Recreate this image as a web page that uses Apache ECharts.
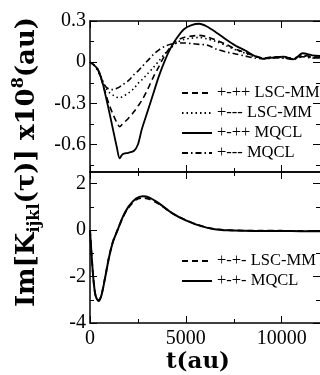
<!DOCTYPE html>
<html>
<head>
<meta charset="utf-8">
<script src="https://cdn.jsdelivr.net/npm/echarts@6/dist/echarts.min.js"></script>
<style>html,body{margin:0;padding:0;background:#fff}#c{width:320px;height:375px}</style>
</head>
<body>
<div id="c"></div>
<script>
// ---- data ----
const tTop = [0,200,400,600,800,1000,1200,1400,1550,1700,2000,2300,2500,2700,3000,3300,3600,3900,4200,4500,4900,5300,5700,6100,6600,7100,7600,8100,8600,9100,9600,10100,10600,11100,11600,12000];
const lscPMPP  = [0,-0.02,-0.05,-0.13,-0.22,-0.31,-0.38,-0.44,-0.47,-0.45,-0.41,-0.36,-0.32,-0.28,-0.20,-0.11,-0.03,0.05,0.11,0.155,0.18,0.19,0.195,0.185,0.16,0.13,0.095,0.07,0.045,0.03,0.04,0.035,0.03,0.05,0.04,0.035];
const lscPMMM  = [0,-0.02,-0.06,-0.12,-0.18,-0.22,-0.24,-0.255,-0.26,-0.25,-0.225,-0.19,-0.155,-0.13,-0.085,-0.04,0.01,0.06,0.10,0.14,0.165,0.175,0.18,0.17,0.15,0.12,0.09,0.065,0.04,0.03,0.035,0.03,0.025,0.045,0.035,0.03];
const mqclPMPP = [0,-0.02,-0.05,-0.12,-0.235,-0.36,-0.49,-0.62,-0.70,-0.67,-0.66,-0.645,-0.60,-0.49,-0.36,-0.23,-0.10,0.01,0.10,0.17,0.24,0.27,0.28,0.26,0.215,0.165,0.12,0.085,0.045,0.025,0.035,0.04,0.02,0.065,0.05,0.045];
const mqclPMMM = [0,-0.02,-0.06,-0.12,-0.175,-0.195,-0.2,-0.19,-0.18,-0.165,-0.135,-0.09,-0.065,-0.035,0.01,0.055,0.09,0.115,0.13,0.14,0.14,0.135,0.13,0.125,0.095,0.075,0.06,0.045,0.03,0.025,0.03,0.03,0.02,0.04,0.03,0.03];

const tBot = [0,100,200,300,450,600,800,1000,1200,1450,1700,2000,2400,2750,3100,3600,4300,5000,5800,6500,7200,8000,9000,10000,11000,12000];
const lscPMPM  = [0,-1.3,-2.3,-2.85,-3.03,-2.78,-1.98,-1.13,-0.48,0.03,0.52,0.96,1.3,1.38,1.33,1.12,0.72,0.43,0.18,0.05,0.0,-0.02,-0.03,-0.03,-0.04,-0.04];
const mqclPMPM = [0,-1.3,-2.3,-2.85,-3.05,-2.8,-2.0,-1.15,-0.5,0.02,0.55,1.0,1.36,1.46,1.40,1.15,0.72,0.42,0.17,0.04,-0.01,-0.03,-0.04,-0.04,-0.05,-0.05];

const xMajor = [0,5000,10000];
const xMinor = [2500,7500];
const yTopMajor = [-0.6,-0.3,0,0.3];
const yTopMinor = [-0.75,-0.45,-0.15,0.15];
const yBotMajor = [-4,-2,0,2];
const yBotMinor = [-3,-1,1];

const namesTop = ['+-++ LSC-MM','+--- LSC-MM','+-++ MQCL','+--- MQCL'];
const namesBot = ['+-+- LSC-MM','+-+- MQCL'];

// ---- build ----
const serif = 'Liberation Serif';
const black = '#000';
const plain = v => String(v);
function xAx(grid, pos, ticks, len, line, labels, extra) {
  return Object.assign({
    type: 'value', gridIndex: grid, position: pos, min: 0, max: 12000,
    axisLine: {show: line, onZero: false, lineStyle: {color: black, width: 1.5}},
    axisTick: {show: true, inside: true, length: len, customValues: ticks, lineStyle: {color: black, width: 1}},
    axisLabel: labels ? {show: true, customValues: labels, formatter: plain, color: black, fontFamily: serif, fontSize: 20, margin: 6} : {show: false},
    splitLine: {show: false}
  }, extra || {});
}
function yAx(grid, pos, min, max, ticks, len, line, labels) {
  return {
    type: 'value', gridIndex: grid, position: pos, min: min, max: max,
    axisLine: {show: line, onZero: false, lineStyle: {color: black, width: 1.5}},
    axisTick: {show: true, inside: true, length: len, customValues: ticks, lineStyle: {color: black, width: 1}},
    axisLabel: labels ? {show: true, customValues: labels, formatter: plain, color: black, fontFamily: serif, fontSize: 20, margin: 4} : {show: false},
    splitLine: {show: false}
  };
}
const xAxis = [
  xAx(0,'bottom',xMajor,7,true,null),
  xAx(0,'bottom',xMinor,4,false,null),
  xAx(0,'top',xMajor,7,true,null),
  xAx(0,'top',xMinor,4,false,null),
  xAx(1,'bottom',xMajor,7,true,xMajor,{name:'t(au)',nameLocation:'middle',nameGap:28,
      nameTextStyle:{fontFamily:'DejaVu Serif',fontWeight:'bold',fontSize:23,color:black,padding:[0,14,0,0]}}),
  xAx(1,'bottom',xMinor,4,false,null),
  xAx(1,'top',xMajor,7,true,null),
  xAx(1,'top',xMinor,4,false,null)
];
const yAxis = [
  yAx(0,'left',-0.8,0.3,yTopMajor,7,true,yTopMajor),
  yAx(0,'left',-0.8,0.3,yTopMinor,4,false,null),
  yAx(0,'right',-0.8,0.3,yTopMajor,7,false,null),
  yAx(0,'right',-0.8,0.3,yTopMinor,4,false,null),
  yAx(1,'left',-4,2.5,yBotMajor,7,true,yBotMajor),
  yAx(1,'left',-4,2.5,yBotMinor,4,false,null),
  yAx(1,'right',-4,2.5,yBotMajor,7,false,null),
  yAx(1,'right',-4,2.5,yBotMinor,4,false,null)
];
function pairs(ts, vs) { return ts.map((t, i) => [t, vs[i]]); }
function ser(name, xi, yi, ts, vs, type, width) {
  return {
    name: name, type: 'line', xAxisIndex: xi, yAxisIndex: yi,
    data: pairs(ts, vs), symbol: 'none', smooth: 0.3, silent: true,
    lineStyle: {color: black, width: width, type: type},
    itemStyle: {color: black}
  };
}
const series = [
  ser(namesTop[0],0,0,tTop,lscPMPP,[6,4],1.6),
  ser(namesTop[1],0,0,tTop,lscPMMM,[1.5,3],1.6),
  ser(namesTop[2],0,0,tTop,mqclPMPP,'solid',1.8),
  ser(namesTop[3],0,0,tTop,mqclPMMM,[6,3,1.5,3],1.6),
  ser(namesBot[0],4,4,tBot,lscPMPM,[6,4],1.8),
  ser(namesBot[1],4,4,tBot,mqclPMPM,'solid',2)
];
const legendBase = {
  orient: 'vertical', left: 176, itemWidth: 30, itemHeight: 14, itemGap: 2,
  selectedMode: false,
  itemStyle: {opacity: 0, borderWidth: 0},
  textStyle: {fontFamily: serif, fontSize: 16.5, color: black, lineHeight: 18}
};
const option = {
  animation: false,
  backgroundColor: '#fff',
  grid: [
    {left: 90, width: 231, top: 21, height: 151},
    {left: 90, width: 231, top: 172, height: 151}
  ],
  xAxis: xAxis,
  yAxis: yAxis,
  legend: [
    Object.assign({}, legendBase, {top: 79, data: namesTop}),
    Object.assign({}, legendBase, {top: 247, data: namesBot})
  ],
  series: series,
  graphic: [{
    type: 'text', x: 27, y: 162, rotation: Math.PI / 2,
    style: {
      text: '{m|Im[K}{s|ijkl}{m|(τ)] x10}{p|8}{m|(au)}',
      align: 'center', verticalAlign: 'middle',
      textAlign: 'center', textVerticalAlign: 'middle',
      fill: black,
      rich: {
        m: {fontFamily: 'DejaVu Serif', fontWeight: 'bold', fontSize: 26, lineHeight: 32, fill: black, color: black},
        s: {fontFamily: 'DejaVu Serif', fontWeight: 'bold', fontSize: 16, lineHeight: 16, verticalAlign: 'bottom', fill: black, color: black},
        p: {fontFamily: 'DejaVu Serif', fontWeight: 'bold', fontSize: 16, lineHeight: 16, verticalAlign: 'top', fill: black, color: black}
      }
    }
  }]
};
const chart = echarts.init(document.getElementById('c'), null, {renderer: 'canvas'});
chart.setOption(option);
</script>
</body>
</html>
